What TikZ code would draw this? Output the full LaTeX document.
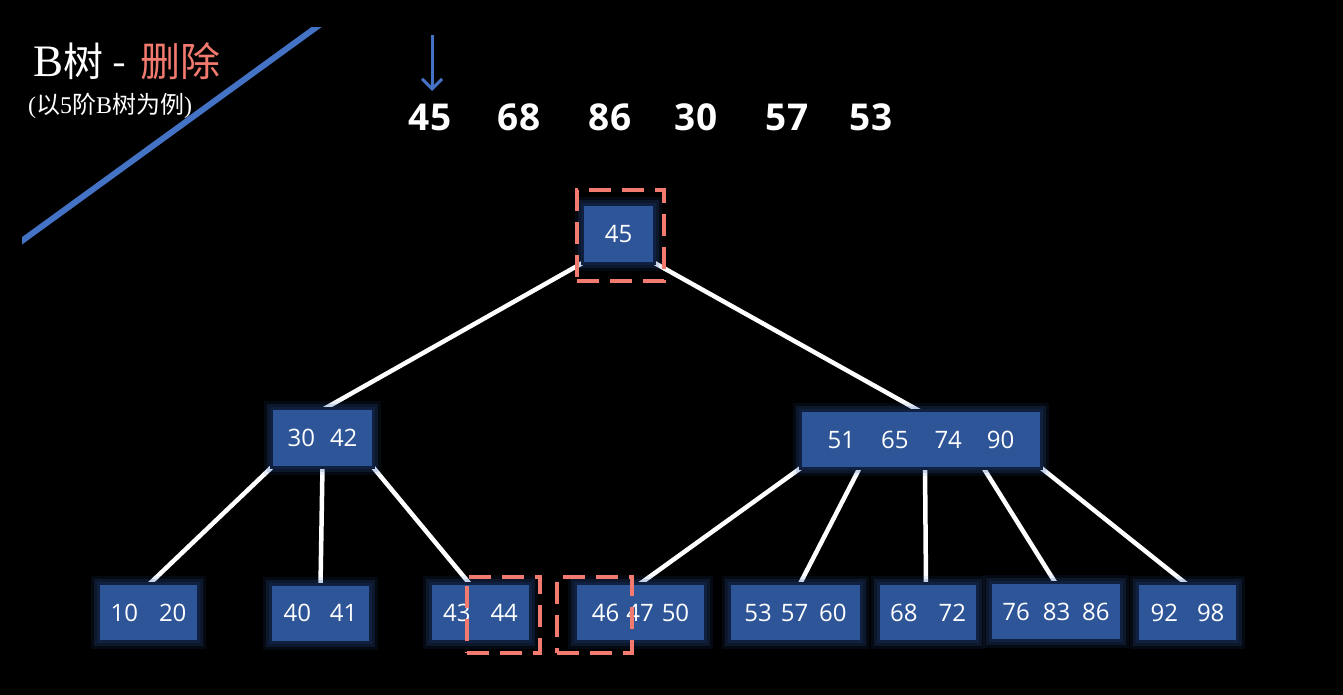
\documentclass[tikz,border=0pt]{standalone}
\usepackage{fontspec}
\setmainfont{Liberation Serif}
\newfontfamily\numfont{Open Sans}
\newfontfamily\cjk{Noto Sans CJK SC}
\usetikzlibrary{arrows.meta}
\definecolor{nodeblue}{RGB}{46,85,151}
\definecolor{glowblue}{RGB}{50,95,175}
\definecolor{rimblue}{RGB}{16,32,64}
\definecolor{salmon}{RGB}{243,122,110}
\definecolor{lineblue}{RGB}{68,114,196}
\pgfdeclarelayer{back}
\pgfdeclarelayer{mid}
\pgfsetlayers{back,mid,main}
\begin{document}
\begin{tikzpicture}[x=1pt,y=-1pt,
  key/.style={rectangle, fill=nodeblue, inner sep=0pt,
    text=white, font=\numfont\fontsize{24}{28}\selectfont, minimum height=55pt,
    preaction={draw=glowblue, line width=18pt, opacity=0.10},
    preaction={draw=glowblue, line width=12pt, opacity=0.18},
    preaction={draw=rimblue, line width=6pt}},
  link/.style={draw=white, line width=4.5pt},
  hl/.style={rectangle, draw=salmon, line width=4.5pt, dash pattern=on 22pt off 11pt, inner sep=0pt},
  topnum/.style={text=white, font=\numfont\bfseries\fontsize{37}{40}\selectfont, inner sep=0pt},
  pointer/.style={draw=lineblue, line width=3pt, -{Straight Barb[length=10pt,width=20pt,line width=3pt]}}
]
\useasboundingbox (0,0) rectangle (1343,695);
\begin{pgfonlayer}{back}
\fill[black] (0,0) rectangle (1343,695);
\begin{scope}
\clip (22,28) rectangle (400,300);
\draw[lineblue, line width=6pt] (8,251) -- (329,18);
\end{scope}
\end{pgfonlayer}

% title
\node[anchor=west, inner sep=0pt, text=white, font=\fontsize{40}{46}\selectfont] (title) at (33,61)
  {{\fontsize{45}{46}\selectfont B}{\cjk 树}\hspace{9pt}{\cjk -}\hspace{14pt}{\cjk\color{salmon}删除}};
\node[anchor=west, inner sep=0pt, text=white, font=\fontsize{24}{28}\selectfont] (sub) at (28,106)
  {({\cjk 以}5{\cjk 阶}B{\cjk 树为例})};

% sequence
\node[topnum] (t1) at (430,117) {45};
\node[topnum] (t2) at (519,117) {68};
\node[topnum] (t3) at (610,117) {86};
\node[topnum] (t4) at (696,117) {30};
\node[topnum] (t5) at (787,117) {57};
\node[topnum] (t6) at (871,117) {53};
\coordinate (arrS) at (432,35);
\coordinate (arrE) at (432,91);
\draw[pointer] (arrS) -- (arrE);

% tree nodes
\node[key, minimum width=69pt, minimum height=56pt] (root) at (618.5,234) {45};
\node[key, minimum width=99pt, minimum height=56pt] (L) at (322.5,438) {30\hspace{15pt}42};
\node[key, minimum width=238pt] (R) at (921,439.5) {51\hspace{26pt}65\hspace{26pt}74\hspace{25pt}90};
\node[key, minimum width=97pt] (a) at (148.5,612.5) {10\hspace{21pt}20};
\node[key, minimum width=97pt] (b) at (320.5,613) {40\hspace{19pt}41};
\node[key, minimum width=97pt] (c) at (480.5,612.5) {43\hspace{20pt}44};
\node[key, minimum width=127pt] (d) at (640.5,612.5) {46\hspace{7pt}47\hspace{8pt}50};
\node[key, minimum width=129pt] (e) at (795.5,612.5) {53\hspace{9pt}57\hspace{11pt}60};
\node[key, minimum width=96pt] (f) at (928,612.5) {68\hspace{21pt}72};
\node[key, minimum width=128pt] (g) at (1056,611.5) {76\hspace{13pt}83\hspace{12pt}86};
\node[key, minimum width=97pt] (h) at (1187.5,612.5) {92\hspace{19pt}98};

% connectors
\begin{pgfonlayer}{mid}
\draw[link] (root.south west) -- (L.north);
\draw[link] (root.south east) -- (R.north);
\draw[link] (L.south west) -- (a.north);
\draw[link] (L.south) -- (b.north);
\draw[link] (L.south east) -- ([xshift=-10pt]c.north);
\draw[link] (R.south west) -- ([xshift=-2pt]d.north);
\draw[link] ([xshift=-61pt]R.south) -- ([xshift=4pt]e.north);
\draw[link] ([xshift=4pt]R.south) -- ([xshift=-2pt]f.north);
\draw[link] ([xshift=62pt]R.south) -- (g.north);
\draw[link] (R.south east) -- (h.north);
\end{pgfonlayer}

% highlights
\node[hl, minimum width=87pt, minimum height=91pt] (hroot) at (620.5,235.5) {};
\node[hl, minimum width=73pt, minimum height=76pt] (h44) at (503.5,615) {};
\node[hl, minimum width=75pt, minimum height=76pt] (h46) at (594.5,615) {};
\end{tikzpicture}
\end{document}
